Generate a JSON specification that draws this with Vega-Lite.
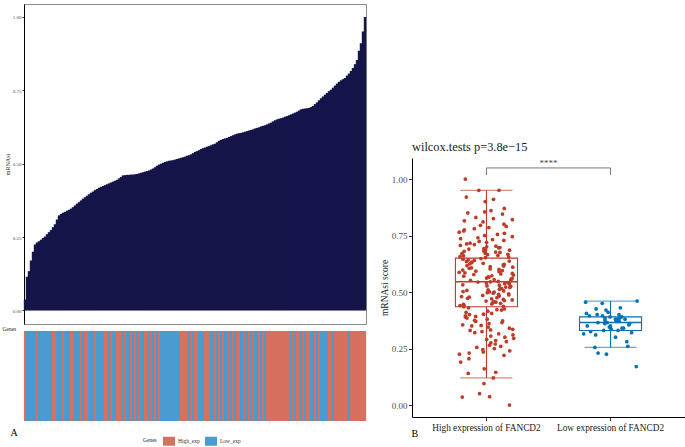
{
  "$schema": "https://vega.github.io/schema/vega-lite/v6.json",
  "padding": {"left": 2, "top": 3, "right": 0, "bottom": 0},
  "background": "white",
  "config": {"font": "Liberation Serif", "view": {"stroke": null}, "axis": {"grid": false}},
  "datasets": {
    "groups": [
      {"g": "H", "name": "High expression of FANCD2", "lab": "High_exp"},
      {"g": "L", "name": "Low expression of FANCD2", "lab": "Low_exp"}
    ],
    "samples": [
      {"i":1,"v":0.037,"g":"H"},{"i":2,"v":0.115,"g":"L"},{"i":3,"v":0.134,"g":"L"},{"i":4,"v":0.17,"g":"L"},{"i":5,"v":0.2,"g":"L"},
      {"i":6,"v":0.225,"g":"L"},{"i":7,"v":0.232,"g":"H"},{"i":8,"v":0.236,"g":"L"},{"i":9,"v":0.241,"g":"L"},{"i":10,"v":0.247,"g":"L"},
      {"i":11,"v":0.252,"g":"L"},{"i":12,"v":0.26,"g":"L"},{"i":13,"v":0.267,"g":"L"},{"i":14,"v":0.274,"g":"L"},{"i":15,"v":0.284,"g":"H"},
      {"i":16,"v":0.294,"g":"H"},{"i":17,"v":0.31,"g":"L"},{"i":18,"v":0.324,"g":"L"},{"i":19,"v":0.329,"g":"L"},{"i":20,"v":0.333,"g":"H"},
      {"i":21,"v":0.336,"g":"L"},{"i":22,"v":0.34,"g":"L"},{"i":23,"v":0.343,"g":"L"},{"i":24,"v":0.347,"g":"H"},{"i":25,"v":0.352,"g":"H"},
      {"i":26,"v":0.358,"g":"L"},{"i":27,"v":0.364,"g":"L"},{"i":28,"v":0.369,"g":"L"},{"i":29,"v":0.375,"g":"H"},{"i":30,"v":0.381,"g":"L"},
      {"i":31,"v":0.386,"g":"H"},{"i":32,"v":0.391,"g":"H"},{"i":33,"v":0.396,"g":"L"},{"i":34,"v":0.401,"g":"L"},{"i":35,"v":0.405,"g":"L"},
      {"i":36,"v":0.41,"g":"H"},{"i":37,"v":0.414,"g":"L"},{"i":38,"v":0.418,"g":"L"},{"i":39,"v":0.421,"g":"L"},{"i":40,"v":0.424,"g":"L"},
      {"i":41,"v":0.427,"g":"H"},{"i":42,"v":0.43,"g":"H"},{"i":43,"v":0.433,"g":"L"},{"i":44,"v":0.436,"g":"H"},{"i":45,"v":0.439,"g":"L"},
      {"i":46,"v":0.442,"g":"L"},{"i":47,"v":0.445,"g":"H"},{"i":48,"v":0.45,"g":"H"},{"i":49,"v":0.455,"g":"H"},{"i":50,"v":0.46,"g":"L"},
      {"i":51,"v":0.461,"g":"H"},{"i":52,"v":0.462,"g":"L"},{"i":53,"v":0.462,"g":"L"},{"i":54,"v":0.463,"g":"H"},{"i":55,"v":0.463,"g":"L"},
      {"i":56,"v":0.464,"g":"H"},{"i":57,"v":0.465,"g":"L"},{"i":58,"v":0.467,"g":"H"},{"i":59,"v":0.469,"g":"L"},{"i":60,"v":0.471,"g":"L"},
      {"i":61,"v":0.473,"g":"H"},{"i":62,"v":0.475,"g":"H"},{"i":63,"v":0.477,"g":"L"},{"i":64,"v":0.48,"g":"H"},{"i":65,"v":0.484,"g":"L"},
      {"i":66,"v":0.488,"g":"H"},{"i":67,"v":0.493,"g":"L"},{"i":68,"v":0.497,"g":"H"},{"i":69,"v":0.5,"g":"L"},{"i":70,"v":0.503,"g":"L"},
      {"i":71,"v":0.506,"g":"L"},{"i":72,"v":0.508,"g":"L"},{"i":73,"v":0.51,"g":"L"},{"i":74,"v":0.511,"g":"L"},{"i":75,"v":0.512,"g":"L"},
      {"i":76,"v":0.514,"g":"L"},{"i":77,"v":0.516,"g":"L"},{"i":78,"v":0.518,"g":"L"},{"i":79,"v":0.52,"g":"H"},{"i":80,"v":0.522,"g":"H"},
      {"i":81,"v":0.524,"g":"H"},{"i":82,"v":0.527,"g":"H"},{"i":83,"v":0.529,"g":"L"},{"i":84,"v":0.532,"g":"H"},{"i":85,"v":0.536,"g":"L"},
      {"i":86,"v":0.54,"g":"H"},{"i":87,"v":0.543,"g":"H"},{"i":88,"v":0.546,"g":"L"},{"i":89,"v":0.55,"g":"L"},{"i":90,"v":0.553,"g":"L"},
      {"i":91,"v":0.555,"g":"H"},{"i":92,"v":0.558,"g":"H"},{"i":93,"v":0.56,"g":"H"},{"i":94,"v":0.563,"g":"L"},{"i":95,"v":0.566,"g":"L"},
      {"i":96,"v":0.568,"g":"H"},{"i":97,"v":0.573,"g":"L"},{"i":98,"v":0.578,"g":"H"},{"i":99,"v":0.581,"g":"L"},{"i":100,"v":0.584,"g":"H"},
      {"i":101,"v":0.586,"g":"L"},{"i":102,"v":0.588,"g":"L"},{"i":103,"v":0.591,"g":"H"},{"i":104,"v":0.594,"g":"L"},{"i":105,"v":0.597,"g":"H"},
      {"i":106,"v":0.6,"g":"L"},{"i":107,"v":0.602,"g":"H"},{"i":108,"v":0.604,"g":"H"},{"i":109,"v":0.605,"g":"L"},{"i":110,"v":0.607,"g":"L"},
      {"i":111,"v":0.609,"g":"H"},{"i":112,"v":0.611,"g":"L"},{"i":113,"v":0.613,"g":"H"},{"i":114,"v":0.615,"g":"L"},{"i":115,"v":0.617,"g":"H"},
      {"i":116,"v":0.62,"g":"L"},{"i":117,"v":0.622,"g":"L"},{"i":118,"v":0.624,"g":"H"},{"i":119,"v":0.627,"g":"L"},{"i":120,"v":0.629,"g":"H"},
      {"i":121,"v":0.631,"g":"L"},{"i":122,"v":0.634,"g":"H"},{"i":123,"v":0.637,"g":"H"},{"i":124,"v":0.64,"g":"H"},{"i":125,"v":0.644,"g":"H"},
      {"i":126,"v":0.648,"g":"H"},{"i":127,"v":0.651,"g":"H"},{"i":128,"v":0.653,"g":"H"},{"i":129,"v":0.655,"g":"H"},{"i":130,"v":0.657,"g":"H"},
      {"i":131,"v":0.66,"g":"H"},{"i":132,"v":0.662,"g":"H"},{"i":133,"v":0.665,"g":"H"},{"i":134,"v":0.668,"g":"L"},{"i":135,"v":0.671,"g":"H"},
      {"i":136,"v":0.674,"g":"L"},{"i":137,"v":0.677,"g":"H"},{"i":138,"v":0.681,"g":"H"},{"i":139,"v":0.685,"g":"L"},{"i":140,"v":0.687,"g":"H"},
      {"i":141,"v":0.688,"g":"L"},{"i":142,"v":0.689,"g":"H"},{"i":143,"v":0.69,"g":"H"},{"i":144,"v":0.693,"g":"L"},{"i":145,"v":0.697,"g":"L"},
      {"i":146,"v":0.703,"g":"H"},{"i":147,"v":0.709,"g":"L"},{"i":148,"v":0.716,"g":"H"},{"i":149,"v":0.723,"g":"L"},{"i":150,"v":0.729,"g":"L"},
      {"i":151,"v":0.735,"g":"L"},{"i":152,"v":0.741,"g":"L"},{"i":153,"v":0.747,"g":"H"},{"i":154,"v":0.752,"g":"H"},{"i":155,"v":0.759,"g":"L"},
      {"i":156,"v":0.766,"g":"H"},{"i":157,"v":0.773,"g":"H"},{"i":158,"v":0.779,"g":"H"},{"i":159,"v":0.784,"g":"H"},{"i":160,"v":0.788,"g":"H"},
      {"i":161,"v":0.792,"g":"H"},{"i":162,"v":0.8,"g":"H"},{"i":163,"v":0.807,"g":"L"},{"i":164,"v":0.816,"g":"H"},{"i":165,"v":0.826,"g":"H"},
      {"i":166,"v":0.839,"g":"H"},{"i":167,"v":0.853,"g":"H"},{"i":168,"v":0.885,"g":"H"},{"i":169,"v":0.91,"g":"H"},{"i":170,"v":0.95,"g":"H"},
      {"i":171,"v":1.0,"g":"H"}
    ],
    "box": [
      {"g": "H", "lo": 0.12, "q1": 0.435, "med": 0.545, "q3": 0.65, "hi": 0.95},
      {"g": "L", "lo": 0.255, "q1": 0.33, "med": 0.365, "q3": 0.39, "hi": 0.46}
    ],
    "points": [
      {"g":"H","v":0.0},{"g":"H","v":0.035},{"g":"H","v":0.037},{"g":"H","v":0.05},{"g":"H","v":0.095},{"g":"H","v":0.12},{"g":"H","v":0.14},{"g":"H","v":0.145},
      {"g":"H","v":0.16},{"g":"H","v":0.19},{"g":"H","v":0.205},{"g":"H","v":0.22},{"g":"H","v":0.225},{"g":"H","v":0.23},{"g":"H","v":0.235},{"g":"H","v":0.24},
      {"g":"H","v":0.245},{"g":"H","v":0.25},{"g":"H","v":0.255},{"g":"H","v":0.26},{"g":"H","v":0.265},{"g":"H","v":0.27},{"g":"H","v":0.275},{"g":"H","v":0.28},
      {"g":"H","v":0.285},{"g":"H","v":0.29},{"g":"H","v":0.295},{"g":"H","v":0.3},{"g":"H","v":0.305},{"g":"H","v":0.31},{"g":"H","v":0.315},{"g":"H","v":0.32},
      {"g":"H","v":0.325},{"g":"H","v":0.33},{"g":"H","v":0.332},{"g":"H","v":0.335},{"g":"H","v":0.34},{"g":"H","v":0.345},{"g":"H","v":0.35},{"g":"H","v":0.352},
      {"g":"H","v":0.355},{"g":"H","v":0.36},{"g":"H","v":0.365},{"g":"H","v":0.37},{"g":"H","v":0.372},{"g":"H","v":0.375},{"g":"H","v":0.38},{"g":"H","v":0.385},
      {"g":"H","v":0.39},{"g":"H","v":0.392},{"g":"H","v":0.395},{"g":"H","v":0.4},{"g":"H","v":0.402},{"g":"H","v":0.405},{"g":"H","v":0.41},{"g":"H","v":0.415},
      {"g":"H","v":0.42},{"g":"H","v":0.422},{"g":"H","v":0.425},{"g":"H","v":0.43},
      {"g":"H","v":0.435},{"g":"H","v":0.437},{"g":"H","v":0.44},{"g":"H","v":0.442},{"g":"H","v":0.445},{"g":"H","v":0.447},{"g":"H","v":0.45},{"g":"H","v":0.452},
      {"g":"H","v":0.455},{"g":"H","v":0.457},{"g":"H","v":0.46},{"g":"H","v":0.462},{"g":"H","v":0.465},{"g":"H","v":0.467},{"g":"H","v":0.47},{"g":"H","v":0.472},
      {"g":"H","v":0.475},{"g":"H","v":0.477},{"g":"H","v":0.48},{"g":"H","v":0.482},{"g":"H","v":0.485},{"g":"H","v":0.487},{"g":"H","v":0.49},{"g":"H","v":0.492},
      {"g":"H","v":0.495},{"g":"H","v":0.497},{"g":"H","v":0.5},{"g":"H","v":0.501},{"g":"H","v":0.502},{"g":"H","v":0.505},{"g":"H","v":0.507},{"g":"H","v":0.51},
      {"g":"H","v":0.512},{"g":"H","v":0.515},{"g":"H","v":0.517},{"g":"H","v":0.52},{"g":"H","v":0.522},{"g":"H","v":0.525},{"g":"H","v":0.527},{"g":"H","v":0.53},
      {"g":"H","v":0.532},{"g":"H","v":0.535},{"g":"H","v":0.537},{"g":"H","v":0.54},{"g":"H","v":0.542},{"g":"H","v":0.544},{"g":"H","v":0.545},{"g":"H","v":0.547},
      {"g":"H","v":0.55},{"g":"H","v":0.552},{"g":"H","v":0.555},{"g":"H","v":0.557},{"g":"H","v":0.56},{"g":"H","v":0.562},{"g":"H","v":0.565},{"g":"H","v":0.567},
      {"g":"H","v":0.57},{"g":"H","v":0.572},{"g":"H","v":0.575},{"g":"H","v":0.577},{"g":"H","v":0.58},{"g":"H","v":0.582},{"g":"H","v":0.585},{"g":"H","v":0.587},
      {"g":"H","v":0.59},{"g":"H","v":0.592},{"g":"H","v":0.595},{"g":"H","v":0.597},{"g":"H","v":0.6},{"g":"H","v":0.602},{"g":"H","v":0.605},{"g":"H","v":0.607},
      {"g":"H","v":0.61},{"g":"H","v":0.612},{"g":"H","v":0.615},{"g":"H","v":0.617},{"g":"H","v":0.62},{"g":"H","v":0.622},{"g":"H","v":0.625},{"g":"H","v":0.627},
      {"g":"H","v":0.63},{"g":"H","v":0.632},{"g":"H","v":0.635},{"g":"H","v":0.637},{"g":"H","v":0.64},{"g":"H","v":0.642},{"g":"H","v":0.645},{"g":"H","v":0.648},
      {"g":"H","v":0.652},{"g":"H","v":0.655},{"g":"H","v":0.657},{"g":"H","v":0.66},{"g":"H","v":0.662},{"g":"H","v":0.665},{"g":"H","v":0.667},{"g":"H","v":0.67},
      {"g":"H","v":0.672},{"g":"H","v":0.675},{"g":"H","v":0.677},{"g":"H","v":0.68},{"g":"H","v":0.682},{"g":"H","v":0.685},{"g":"H","v":0.687},{"g":"H","v":0.69},
      {"g":"H","v":0.692},{"g":"H","v":0.695},{"g":"H","v":0.697},{"g":"H","v":0.7},{"g":"H","v":0.703},{"g":"H","v":0.706},{"g":"H","v":0.71},{"g":"H","v":0.713},
      {"g":"H","v":0.716},{"g":"H","v":0.72},{"g":"H","v":0.724},{"g":"H","v":0.728},{"g":"H","v":0.732},{"g":"H","v":0.736},{"g":"H","v":0.74},{"g":"H","v":0.745},
      {"g":"H","v":0.75},{"g":"H","v":0.755},{"g":"H","v":0.76},{"g":"H","v":0.765},{"g":"H","v":0.77},{"g":"H","v":0.775},{"g":"H","v":0.78},{"g":"H","v":0.785},
      {"g":"H","v":0.79},{"g":"H","v":0.795},{"g":"H","v":0.8},{"g":"H","v":0.81},{"g":"H","v":0.815},{"g":"H","v":0.82},{"g":"H","v":0.825},{"g":"H","v":0.83},
      {"g":"H","v":0.845},{"g":"H","v":0.85},{"g":"H","v":0.855},{"g":"H","v":0.86},{"g":"H","v":0.87},{"g":"H","v":0.9},{"g":"H","v":0.91},{"g":"H","v":0.92},
      {"g":"H","v":0.95},{"g":"H","v":0.95},{"g":"H","v":1.0},
      {"g":"L","v":0.17},{"g":"L","v":0.225},{"g":"L","v":0.23},{"g":"L","v":0.255},{"g":"L","v":0.26},{"g":"L","v":0.28},{"g":"L","v":0.3},{"g":"L","v":0.31},
      {"g":"L","v":0.315},{"g":"L","v":0.32},{"g":"L","v":0.325},{"g":"L","v":0.33},{"g":"L","v":0.33},{"g":"L","v":0.335},{"g":"L","v":0.34},{"g":"L","v":0.34},
      {"g":"L","v":0.345},{"g":"L","v":0.345},{"g":"L","v":0.35},{"g":"L","v":0.35},{"g":"L","v":0.355},{"g":"L","v":0.36},{"g":"L","v":0.36},{"g":"L","v":0.365},
      {"g":"L","v":0.365},{"g":"L","v":0.37},{"g":"L","v":0.37},{"g":"L","v":0.375},{"g":"L","v":0.38},{"g":"L","v":0.38},{"g":"L","v":0.38},{"g":"L","v":0.385},
      {"g":"L","v":0.385},{"g":"L","v":0.39},{"g":"L","v":0.39},{"g":"L","v":0.395},{"g":"L","v":0.395},{"g":"L","v":0.4},{"g":"L","v":0.4},{"g":"L","v":0.405},
      {"g":"L","v":0.41},{"g":"L","v":0.42},{"g":"L","v":0.425},{"g":"L","v":0.43},{"g":"L","v":0.45},{"g":"L","v":0.455},{"g":"L","v":0.46}
    ]
  },
  "resolve": {"scale": {"color": "independent", "x": "independent", "y": "independent"}, "legend": {"color": "independent"}},
  "spacing": 12,
  "hconcat": [
    {
      "bounds": "flush",
      "spacing": 7,
      "resolve": {"scale": {"x": "independent", "y": "independent", "color": "independent"}},
      "vconcat": [
        {
          "width": 342,
          "height": 320,
          "view": {"stroke": "#8c8c8c", "strokeWidth": 1},
          "data": {"name": "samples"},
          "mark": {"type": "bar", "color": "#15154A", "width": 2.4},
          "encoding": {
            "x": {"field": "i", "type": "quantitative", "scale": {"domain": [0.5, 171.5], "nice": false, "zero": false, "padding": 0}, "axis": null},
            "y": {
              "field": "v", "type": "quantitative",
              "scale": {"domain": [-0.046, 1.044], "nice": false, "zero": false},
              "axis": {"values": [0, 0.25, 0.5, 0.75, 1], "format": ".2f", "title": "mRNAsi", "titleFontSize": 6, "titleFontWeight": "normal", "titleColor": "#222", "titlePadding": 2, "labelFontSize": 5, "labelColor": "#444", "labelPadding": 1, "tickSize": 2, "tickColor": "#333", "domainColor": "#000"}
            },
            "y2": {"datum": 0}
          }
        },
        {
          "width": 342,
          "height": 90,
          "data": {"name": "samples"},
          "transform": [{"lookup": "g", "from": {"data": {"name": "groups"}, "key": "g", "fields": ["lab"]}}],
          "mark": {"type": "bar", "width": 2.2},
          "encoding": {
            "x": {"field": "i", "type": "quantitative", "scale": {"domain": [0.5, 171.5], "nice": false, "zero": false, "padding": 0},
                  "axis": {"labels": false, "ticks": false, "domain": false, "title": "A", "titleX": -14, "titleY": 14, "titleAlign": "left", "titleBaseline": "alphabetic", "titleFontSize": 10, "titleFontWeight": "normal", "titleColor": "#000"}},
            "y": {"datum": 1, "type": "quantitative", "scale": {"domain": [0, 1], "nice": false},
                  "axis": {"labels": false, "ticks": false, "domain": false, "title": "Genes", "titleAngle": 0, "titleAlign": "left", "titleBaseline": "alphabetic", "titleX": -22, "titleY": -1, "titleFontSize": 5.5, "titleFontWeight": "normal", "titleColor": "#222"}},
            "y2": {"datum": 0},
            "color": {
              "field": "lab", "type": "nominal",
              "scale": {"domain": ["High_exp", "Low_exp"], "range": ["#D6705F", "#4A9BD0"]},
              "legend": {"orient": "none", "legendX": 119, "legendY": 104, "direction": "horizontal", "title": "Genes", "titleOrient": "left", "titleFontSize": 5.5, "titleFontWeight": "normal", "titleColor": "#222", "titlePadding": 6, "labelFontSize": 5.5, "labelColor": "#333", "labelOffset": 3, "symbolType": "M-1,-0.75H1V0.75H-1Z", "symbolSize": 144, "symbolStrokeWidth": 0, "symbolOpacity": 1, "columnPadding": 5}
            }
          }
        }
      ]
    },
    {
      "width": 273,
      "height": 413,
      "title": {"text": "wilcox.tests p=3.8e−15", "anchor": "start", "frame": "group", "offset": -149, "fontSize": 12.4, "fontWeight": "normal", "color": "#1a1a1a", "font": "Liberation Serif"},
      "layer": [
        {
          "data": {"name": "box"},
          "transform": [{"lookup": "g", "from": {"data": {"name": "groups"}, "key": "g", "fields": ["name"]}}],
          "mark": {"type": "rule", "strokeWidth": 1.1},
          "encoding": {
            "x": {"field": "name", "type": "nominal", "bandPosition": 0.5,
                  "scale": {"type": "band", "domain": ["High expression of FANCD2", "Low expression of FANCD2"], "paddingInner": 0, "paddingOuter": 0.1},
                  "axis": {"title": "B", "titleX": -1, "titleY": 19, "titleAlign": "left", "titleBaseline": "alphabetic", "titleFontSize": 10, "titleFontWeight": "normal", "titleColor": "#000", "labelFontSize": 9.3, "labelColor": "#1a1a1a", "labelAngle": 0, "labelOverlap": false, "labelLimit": 0, "labelPadding": 3, "tickSize": 3.5, "tickColor": "#333", "domainColor": "#000"}},
            "y": {"field": "lo", "type": "quantitative",
                  "scale": {"domain": [-0.053, 1.093], "nice": false, "zero": false, "range": [413, 154]},
                  "axis": {"values": [0, 0.25, 0.5, 0.75, 1], "format": ".2f", "title": "mRNAsi score", "titleFontSize": 9.5, "titleFontWeight": "normal", "titleColor": "#1a1a1a", "titlePadding": 2, "labelFontSize": 9, "labelColor": "#4d4d4d", "labelPadding": 1.5, "tickSize": 3.5, "tickColor": "#333", "domainColor": "#000"}},
            "y2": {"field": "q1"},
            "color": {"field": "g", "type": "nominal", "scale": {"domain": ["H", "L"], "range": ["#BC3C29", "#0072B5"]}, "legend": null}
          }
        },
        {
          "data": {"name": "box"},
          "transform": [{"lookup": "g", "from": {"data": {"name": "groups"}, "key": "g", "fields": ["name"]}}],
          "mark": {"type": "rule", "strokeWidth": 1.1},
          "encoding": {
            "x": {"field": "name", "type": "nominal", "bandPosition": 0.5},
            "y": {"field": "q3", "type": "quantitative"},
            "y2": {"field": "hi"},
            "color": {"field": "g", "type": "nominal", "legend": null}
          }
        },
        {
          "data": {"name": "box"},
          "transform": [{"lookup": "g", "from": {"data": {"name": "groups"}, "key": "g", "fields": ["name"]}}],
          "mark": {"type": "rect", "filled": false, "strokeWidth": 1.1},
          "encoding": {
            "x": {"field": "name", "type": "nominal", "bandPosition": 0.25},
            "x2": {"field": "name", "bandPosition": 0.75},
            "y": {"field": "q1", "type": "quantitative"},
            "y2": {"field": "q3"},
            "color": {"field": "g", "type": "nominal", "legend": null}
          }
        },
        {
          "data": {"name": "box"},
          "transform": [{"lookup": "g", "from": {"data": {"name": "groups"}, "key": "g", "fields": ["name"]}}],
          "mark": {"type": "rule", "strokeWidth": 1.5},
          "encoding": {
            "x": {"field": "name", "type": "nominal", "bandPosition": 0.25},
            "x2": {"field": "name", "bandPosition": 0.75},
            "y": {"field": "med", "type": "quantitative"},
            "color": {"field": "g", "type": "nominal", "legend": null}
          }
        },
        {
          "data": {"name": "box"},
          "transform": [{"lookup": "g", "from": {"data": {"name": "groups"}, "key": "g", "fields": ["name"]}}],
          "mark": {"type": "rule", "strokeWidth": 1.2, "opacity": 0.6},
          "encoding": {
            "x": {"field": "name", "type": "nominal", "bandPosition": 0.29},
            "x2": {"field": "name", "bandPosition": 0.71},
            "y": {"field": "hi", "type": "quantitative"},
            "color": {"field": "g", "type": "nominal", "legend": null}
          }
        },
        {
          "data": {"name": "box"},
          "transform": [{"lookup": "g", "from": {"data": {"name": "groups"}, "key": "g", "fields": ["name"]}}],
          "mark": {"type": "rule", "strokeWidth": 1.2, "opacity": 0.6},
          "encoding": {
            "x": {"field": "name", "type": "nominal", "bandPosition": 0.29},
            "x2": {"field": "name", "bandPosition": 0.71},
            "y": {"field": "lo", "type": "quantitative"},
            "color": {"field": "g", "type": "nominal", "legend": null}
          }
        },
        {
          "data": {"name": "points"},
          "transform": [
            {"lookup": "g", "from": {"data": {"name": "groups"}, "key": "g", "fields": ["name"]}},
            {"window": [{"op": "row_number", "as": "rn"}]},
            {"calculate": "((abs(sin(datum.rn * 12.9898) * 43758.5453) % 1) - 0.5) * 0.44", "as": "jit"}
          ],
          "mark": {"type": "circle", "size": 14, "opacity": 1},
          "encoding": {
            "x": {"field": "name", "type": "nominal"},
            "xOffset": {"field": "jit", "type": "quantitative", "scale": {"domain": [-0.5, 0.5]}},
            "y": {"field": "v", "type": "quantitative"},
            "color": {"field": "g", "type": "nominal", "legend": null}
          }
        },
        {
          "data": {"values": [
            {"a": "High expression of FANCD2", "b": "Low expression of FANCD2", "y": 1.049, "y2": 1.049},
            {"a": "High expression of FANCD2", "b": "High expression of FANCD2", "y": 1.018, "y2": 1.049},
            {"a": "Low expression of FANCD2", "b": "Low expression of FANCD2", "y": 1.018, "y2": 1.049}
          ]},
          "mark": {"type": "rule", "color": "#555555", "strokeWidth": 0.8},
          "encoding": {
            "x": {"field": "a", "type": "nominal", "bandPosition": 0.5},
            "x2": {"field": "b", "bandPosition": 0.5},
            "y": {"field": "y", "type": "quantitative"},
            "y2": {"field": "y2"}
          }
        },
        {
          "data": {"values": [{"a": "High expression of FANCD2", "y": 1.071, "t": "****"}]},
          "mark": {"type": "text", "fontSize": 9, "color": "#444444", "baseline": "middle", "align": "center"},
          "encoding": {
            "x": {"field": "a", "type": "nominal", "bandPosition": 1},
            "y": {"field": "y", "type": "quantitative"},
            "text": {"field": "t"}
          }
        }
      ]
    }
  ]
}
